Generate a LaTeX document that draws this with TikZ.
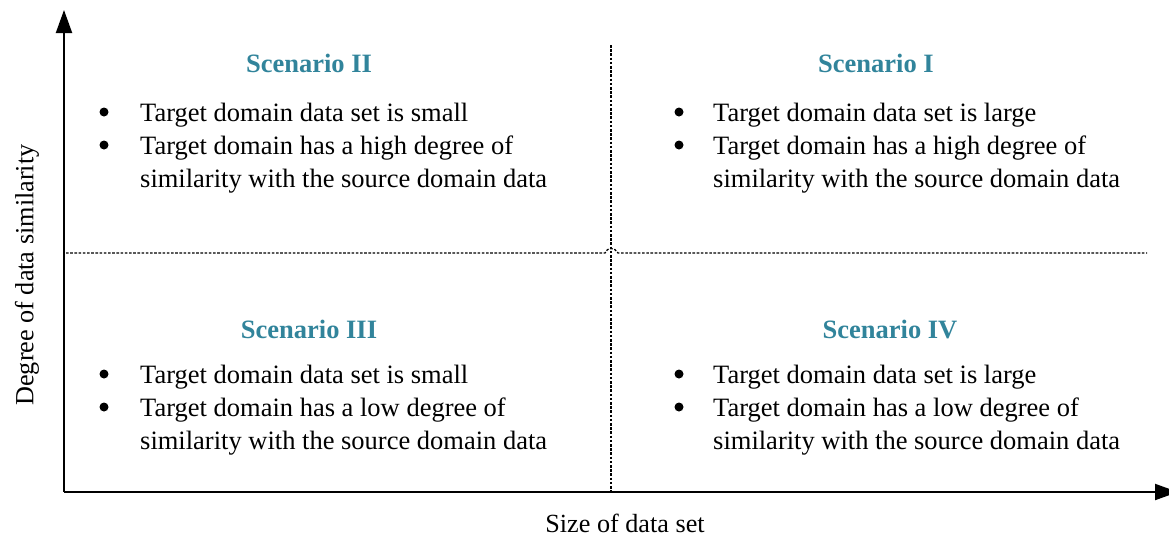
\documentclass[tikz,border=0pt]{standalone}
\usepackage{fontspec}
\setmainfont{Liberation Serif}
\usetikzlibrary{arrows.meta}
\definecolor{scenteal}{HTML}{31849B}
\begin{document}
\begin{tikzpicture}[x=1pt,y=-1pt,
  axis/.style={line width=2pt,-{Triangle[length=23pt,width=16pt]}},
  divider/.style={line width=1.3pt,dash pattern=on 2.6pt off 1.6pt},
  title/.style={font=\fontsize{26.5}{32}\selectfont\bfseries,text=scenteal,anchor=base,inner sep=0pt},
  item/.style={font=\fontsize{26.5}{33}\selectfont,anchor=base west,inner sep=0pt},
  bul/.style={circle,fill=black,inner sep=0pt,minimum size=9pt},
  axlabel/.style={font=\fontsize{26.2}{32}\selectfont,anchor=base,inner sep=0pt}
]
\useasboundingbox (0,0) rectangle (1169,539);

% axes
\coordinate (O) at (64,492);
\coordinate (Ytop) at (64,10);
\coordinate (Xend) at (1178,492);
\draw[axis] (O) -- (Ytop);
\draw[axis] (O) -- (Xend);

% quadrant dividers (the horizontal one hops over the vertical one)
\coordinate (Vtop) at (611,45);
\coordinate (Vbot) at (611,492);
\coordinate (Hl) at (66,253);
\coordinate (Hr) at (1147,253);
\draw[divider] (Vtop) -- (Vbot);
\draw[divider] (Hl) -- (605,253) .. controls (607,247) and (615,247) .. (618,253) -- (Hr);

% axis labels
\node[axlabel,rotate=90,anchor=center] (ylab) at (27,275) {Degree of data similarity};
\node[axlabel] (xlab) at (625,532) {Size of data set};

% Scenario II (top left)
\node[title] (t2) at (309,72) {Scenario II};
\node[bul] (b2a) at (104,112) {};
\node[item] (l2a) at (140,121) {Target domain data set is small};
\node[bul] (b2b) at (104,145) {};
\node[item] (l2b) at (140,154) {Target domain has a high degree of};
\node[item] (l2c) at (140,187) {similarity with the source domain data};

% Scenario I (top right)
\node[title] (t1) at (876,72) {Scenario I};
\node[bul] (b1a) at (679,112) {};
\node[item] (l1a) at (713,121) {Target domain data set is large};
\node[bul] (b1b) at (679,145) {};
\node[item] (l1b) at (713,154) {Target domain has a high degree of};
\node[item] (l1c) at (713,187) {similarity with the source domain data};

% Scenario III (bottom left)
\node[title] (t3) at (309,338) {Scenario III};
\node[bul] (b3a) at (104,374) {};
\node[item] (l3a) at (140,383) {Target domain data set is small};
\node[bul] (b3b) at (104,407) {};
\node[item] (l3b) at (140,416) {Target domain has a low degree of};
\node[item] (l3c) at (140,449) {similarity with the source domain data};

% Scenario IV (bottom right)
\node[title] (t4) at (890,338) {Scenario IV};
\node[bul] (b4a) at (679,374) {};
\node[item] (l4a) at (713,383) {Target domain data set is large};
\node[bul] (b4b) at (679,407) {};
\node[item] (l4b) at (713,416) {Target domain has a low degree of};
\node[item] (l4c) at (713,449) {similarity with the source domain data};
\end{tikzpicture}
\end{document}
